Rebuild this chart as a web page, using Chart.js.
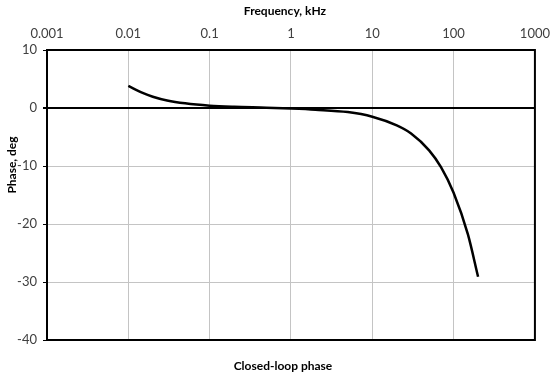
<!DOCTYPE html>
<html>
<head>
<meta charset="utf-8">
<script src="https://cdn.jsdelivr.net/npm/chart.js@4"></script>
<style>
   html, body { margin: 0; padding: 0; background: #fff; }
   #wrap { width: 558px; height: 379px; }
</style>
</head>
<body>
<div id="wrap"><canvas id="chart" width="558" height="379"></canvas></div>
<script>
// частота, кГц
const freqs = [0.01, 0.015, 0.02, 0.03, 0.05, 0.1, 0.2, 0.5, 1, 2, 5, 10, 20, 30, 50, 70, 100, 150, 200]
// фаза, градусы
const phase = [3.8, 2.6, 1.95, 1.3, 0.8, 0.4, 0.2, 0.05, -0.1, -0.3, -0.7, -1.5, -3.0, -4.4, -7.3, -10.2, -14.6, -21.8, -29.1]

const xTicks = [0.001, 0.01, 0.1, 1, 10, 100, 1000]
const xTickLabels = ["0.001", "0.01", "0.1", "1", "10", "100", "1000"]
const yTicks = [10, 0, -10, -20, -30, -40]

const fontFamily = "Lato, 'Open Sans', sans-serif"

// рамка вокруг области графика + подписи осей
const framePlugin = {
   id: "frame",
   afterDraw(chart) {
      const { ctx, chartArea: a } = chart
      const cx = (a.left + a.right) / 2
      ctx.save()
      ctx.strokeStyle = "#000"
      ctx.lineWidth = 2
      ctx.strokeRect(a.left, a.top, a.right - a.left, a.bottom - a.top)

      ctx.font = "bold 12px " + fontFamily
      ctx.fillStyle = "#000"
      ctx.textAlign = "center"
      ctx.textBaseline = "middle"
      ctx.fillText("Frequency, kHz", cx - 6, 11)
      ctx.fillText("Closed-loop phase", cx - 8, 366)

      ctx.translate(12, 165)
      ctx.rotate(-Math.PI / 2)
      ctx.fillText("Phase, deg", 0, 0)
      ctx.restore()
   }
}

new Chart(document.getElementById("chart"), {
   type: "line",
   data: {
      datasets: [{
         data: freqs.map((f, i) => ({ x: f, y: phase[i] })),
         borderColor: "#000",
         borderWidth: 2.5,
         pointRadius: 0,
         fill: false,
         cubicInterpolationMode: "monotone"
      }]
   },
   options: {
      responsive: false,
      animation: false,
      layout: { padding: { left: 0, right: 22, top: 19, bottom: 39 } },
      plugins: {
         legend: { display: false },
         tooltip: { enabled: false }
      },
      scales: {
         x: {
            type: "logarithmic",
            position: "top",
            min: 0.001,
            max: 1000,
            afterBuildTicks: axis => {
               axis.ticks = xTicks.map(v => ({ value: v }))
            },
            afterFit: axis => { axis.height = 31 },
            ticks: {
               autoSkip: false,
               maxRotation: 0,
               color: "#404040",
               padding: 8,
               font: { family: fontFamily, size: 13 },
               callback: (v, i) => xTickLabels[i]
            },
            grid: { color: "#c4c4c4", lineWidth: 1, drawTicks: false },
            border: { display: false }
         },
         y: {
            min: -40,
            max: 10,
            afterBuildTicks: axis => {
               axis.ticks = yTicks.map(v => ({ value: v }))
            },
            afterFit: axis => { axis.width = 47 },
            ticks: {
               color: "#404040",
               padding: 6,
               font: { family: fontFamily, size: 13 }
            },
            grid: {
               color: ctx => ctx.tick && ctx.tick.value === 0 ? "#000" : "#c4c4c4",
               lineWidth: ctx => ctx.tick && ctx.tick.value === 0 ? 2 : 1,
               tickLength: 4,
               tickColor: "#000"
            },
            border: { display: false }
         }
      }
   },
   plugins: [framePlugin]
})
</script>
</body>
</html>
